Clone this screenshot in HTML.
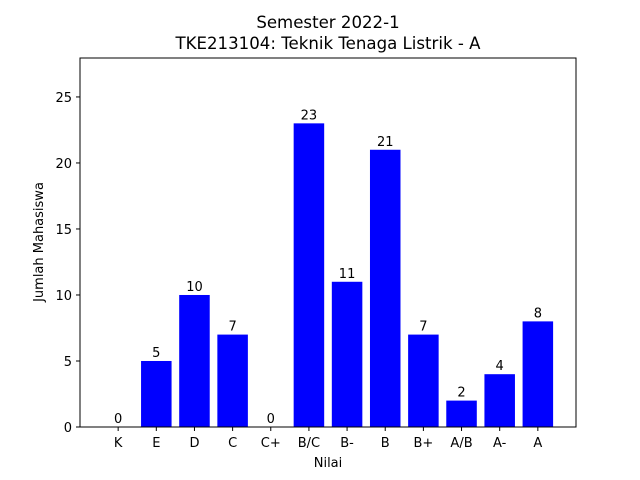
<!DOCTYPE html>
<html><head><meta charset="utf-8"><style>
body{margin:0;background:#fff;}
svg{display:block;font-family:"DejaVu Sans","Liberation Sans",sans-serif;}
</style></head><body>
<svg id="chart" width="640" height="480">
<text x="328" y="28" text-anchor="middle" font-size="16.6">Semester 2022-1</text>
<text x="328" y="49" text-anchor="middle" font-size="16.6">TKE213104: Teknik Tenaga Listrik - A</text>
<g id="plot"></g>
<rect x="80" y="58" width="496" height="369" fill="none" stroke="#000" stroke-width="1"/>
<text x="328" y="467" text-anchor="middle" font-size="13">Nilai</text>
<text transform="translate(43,242) rotate(-90)" text-anchor="middle" font-size="13">Jumlah Mahasiswa</text>
</svg>
<script>
const categories=["K","E","D","C","C+","B/C","B-","B","B+","A/B","A-","A"];
const values=[0,5,10,7,0,23,11,21,7,2,4,8];
const yTicks=[0,5,10,15,20,25];
const L=80,R=576,T=58,B=427,xmin=-1,xmax=12,ymin=0,ymax=27.95;
const xs=v=>L+(v-xmin)/(xmax-xmin)*(R-L);
const ys=v=>B-(v-ymin)/(ymax-ymin)*(B-T);
const NS="http://www.w3.org/2000/svg";
const g=document.getElementById("plot");
function mk(t,a){const e=document.createElementNS(NS,t);for(const k in a)e.setAttribute(k,a[k]);g.appendChild(e);return e;}
const bw=(xs(0.8)-xs(0));
categories.forEach((c,i)=>{
  const r=mk("rect",{x:xs(i)-bw/2,y:ys(values[i]),width:bw,height:ys(0)-ys(values[i]),fill:"#0000ff"});
  
  
  const lb=mk("text",{x:xs(i),y:ys(values[i])-4,"text-anchor":"middle","font-size":"13"});
  lb.textContent=values[i];
  
  
  const tk=mk("line",{x1:xs(i),x2:xs(i),y1:B,y2:B+4,stroke:"#000"});
  
  
  const tl=mk("text",{x:xs(i),y:B+20,"text-anchor":"middle","font-size":"13"});
  tl.textContent=c;
  
  
});
yTicks.forEach(v=>{
  const tk=mk("line",{x1:L-4,x2:L,y1:ys(v),y2:ys(v),stroke:"#000"});
  
  
  const tl=mk("text",{x:L-8,y:ys(v)+5,"text-anchor":"end","font-size":"13"});
  tl.textContent=v;
  
  
});
</script>
</body></html>
